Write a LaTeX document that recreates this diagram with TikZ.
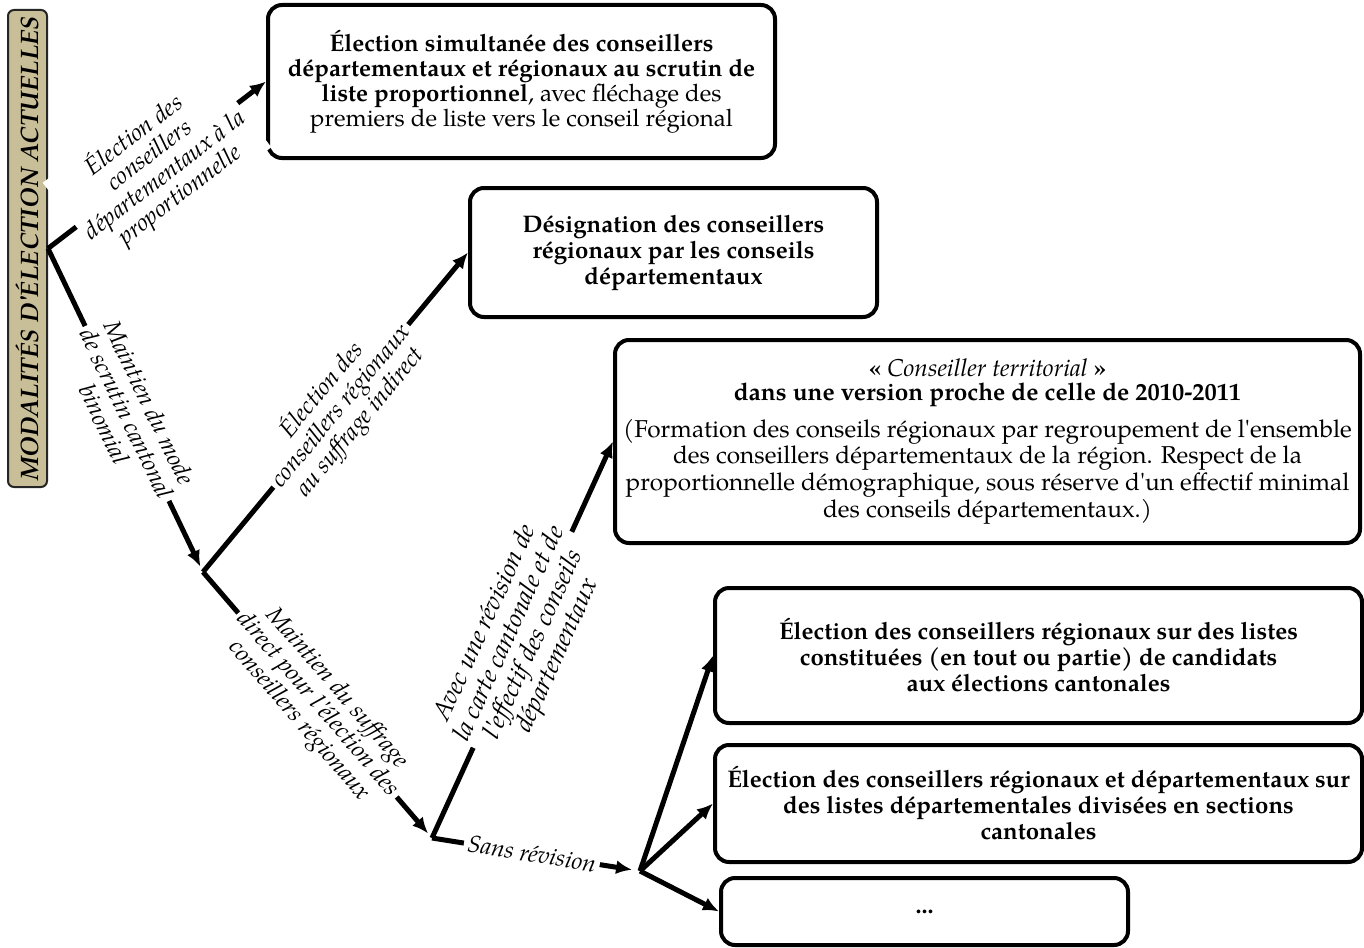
\documentclass[tikz,border=0pt]{standalone}
\usepackage{fontspec}
\setmainfont{texgyrepagella}[Extension=.otf, UprightFont=*-regular, BoldFont=*-bold, ItalicFont=*-italic, BoldItalicFont=*-bolditalic]
\usetikzlibrary{arrows.meta}
\definecolor{titlefill}{RGB}{200,190,152}
\newcommand{\sq}{\textquotesingle}

\begin{document}
\begin{tikzpicture}[x=0.5pt, y=-0.5pt,
  every node/.style={font=\fontsize{12}{12.5}\selectfont},
  optionbox/.style={draw, line width=2pt, rounded corners=7pt, align=center, inner sep=2pt},
  branch/.style={line width=2.5pt, -{Latex[length=8pt,width=7pt]}},
  choicetext/.style={sloped, fill=white, align=center, inner sep=2pt,
    font=\fontsize{12}{12.5}\selectfont\itshape}]
  % Frame of the picture
  \useasboundingbox (0,0) rectangle (1364,947);

  % Title on the left (rotated, so its south side faces right)
  \node[draw=black!85, line width=1pt, fill=titlefill, rounded corners=3pt,
    rotate=90, minimum width=238.5pt, minimum height=19.5pt, inner sep=1pt,
    font=\fontsize{12.6}{13}\selectfont\bfseries\itshape] (title) at (27.5,248.5)
    {MODALITÉS D\sq ÉLECTION ACTUELLES};

  % Outcome boxes
  \node[optionbox, minimum width=253.5pt, minimum height=76.5pt] (simult) at (521.5,81.5)
    {\textbf{Élection simultanée des conseillers}\\
     \textbf{départementaux et régionaux au scrutin de}\\
     \textbf{liste proportionnel}, avec fléchage des\\
     premiers de liste vers le conseil régional};
  \node[optionbox, minimum width=203.5pt, minimum height=64.5pt,
    font=\fontsize{12}{13}\selectfont\bfseries] (designation) at (673.5,252.5)
    {Désignation des conseillers\\régionaux par les conseils\\départementaux};
  \node[optionbox, minimum width=372.5pt, minimum height=101.5pt,
    font=\fontsize{12.2}{12}\selectfont] (territorial) at (987.5,441.5)
    {\textbf{« }\textit{Conseiller territorial}\textbf{ »}\\
     \textbf{dans une version proche de celle de 2010-2011}\\[5pt]
     (Formation des conseils régionaux par regroupement de l\sq ensemble\\
     des conseillers départementaux de la région. Respect de la\\
     proportionnelle démographique, sous réserve d\sq un effectif minimal\\
     des conseils départementaux.)};
  \node[optionbox, minimum width=323.5pt, minimum height=67.5pt,
    font=\fontsize{12}{13}\selectfont\bfseries] (listes) at (1038.5,655.5)
    {Élection des conseillers régionaux sur des listes\\
     constituées (en tout ou partie) de candidats\\
     aux élections cantonales};
  \node[optionbox, minimum width=323.5pt, minimum height=58.5pt,
    font=\fontsize{12}{13}\selectfont\bfseries] (sections) at (1038.5,803.5)
    {Élection des conseillers régionaux et départementaux sur\\
     des listes départementales divisées en sections\\
     cantonales};
  \node[optionbox, minimum width=203.5pt, minimum height=33.5pt,
    font=\fontsize{12}{13}\selectfont\bfseries] (autre) at (924.5,911.5) {...};

  % Branch points
  \coordinate (binomial) at (203,572);
  \coordinate (direct) at (432,838);
  \coordinate (sansrev) at (640,871);

  % Connectors with their labels
  \draw[branch] (title.south) -- node[choicetext, pos=0.5]
    {Élection des\\conseillers\\départementaux à la\\proportionnelle} (simult.west);
  \draw[branch, shorten >=3pt] (title.south) -- node[choicetext, pos=0.51]
    {Maintien du mode\\de scrutin cantonal\\binomial} (binomial);
  \draw[branch] (binomial) -- node[choicetext, pos=0.52]
    {Élection des\\conseillers régionaux\\au suffrage indirect} (designation.west);
  \draw[branch, shorten >=3pt] (binomial) -- node[choicetext, pos=0.5]
    {Maintien du suffrage\\direct pour l\sq élection des\\conseillers régionaux} (direct);
  \draw[branch] (direct) -- node[choicetext, pos=0.5, inner sep=1pt,
    font=\fontsize{12.8}{13.2}\selectfont\itshape]
    {Avec une révision de\\la carte cantonale et de\\l\sq effectif des conseils\\départementaux} (territorial.west);
  \draw[branch, shorten >=4pt] (direct) -- node[choicetext, pos=0.48]
    {Sans révision} (sansrev);
  \draw[branch] (sansrev) -- (listes.west);
  \draw[branch] (sansrev) -- (sections.west);
  \draw[branch] (sansrev) -- (autre.west);
\end{tikzpicture}
\end{document}
